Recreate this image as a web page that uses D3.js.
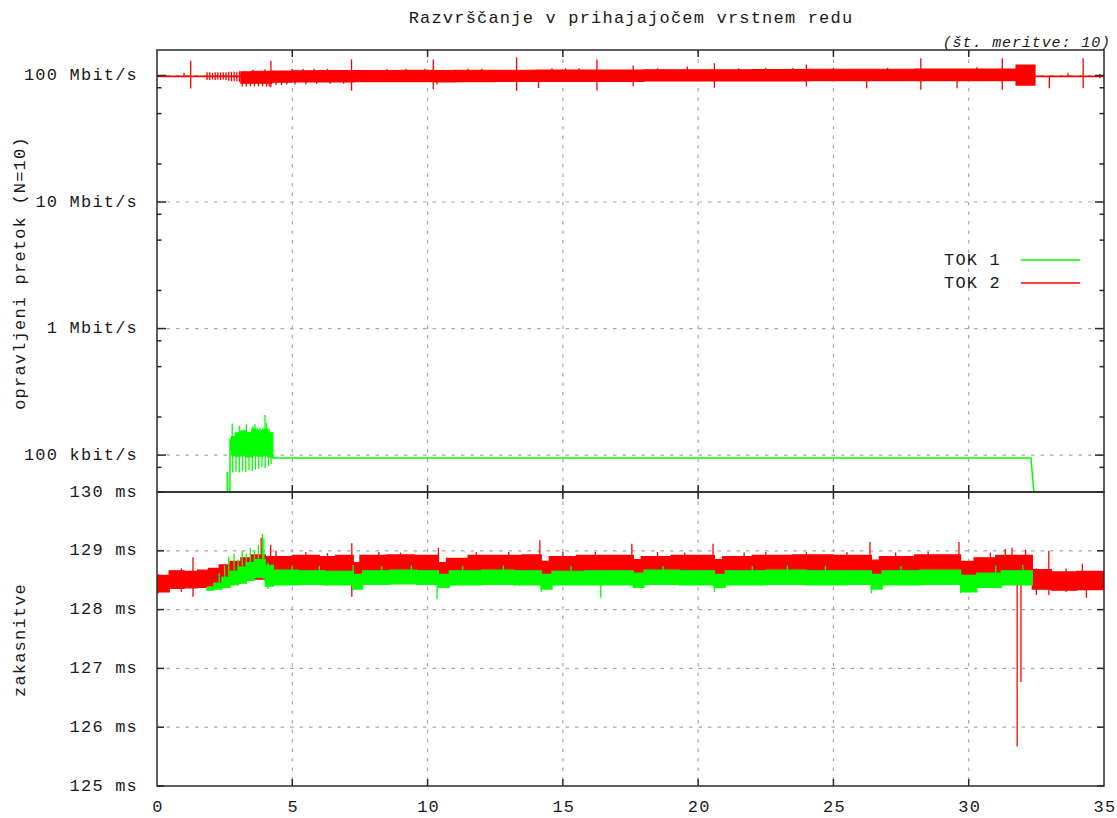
<!DOCTYPE html>
<html><head><meta charset="utf-8">
<script src="https://cdn.jsdelivr.net/npm/d3@7"></script>
<style>
body{margin:0;background:#fff}
svg text{font-family:"Liberation Mono","DejaVu Sans Mono",monospace;fill:#1a1a1a}
</style></head><body>
<svg id="c" width="1117" height="818"></svg>
<script>
// ---------- tick labels ----------
const xTickValues = [0,5,10,15,20,25,30,35];
const rateTickValues = [100,10,1,0.1];               // Mbit/s
const rateTickLabels = ["100 Mbit/s","10 Mbit/s","1 Mbit/s","100 kbit/s"];
const rateMinorValues = [80,50,20,8,5,2,0.8,0.5,0.2,0.08];
const delayTickValues = [130,129,128,127,126,125];   // ms
const delayTickLabels = ["130 ms","129 ms","128 ms","127 ms","126 ms","125 ms"];
const seriesNames = ["TOK 1","TOK 2"];

// ---------- TOK 2 throughput (Mbit/s): band [t, lo, hi] (step) ----------
const tok2RateBand = [
 [0,97.8,98.8],[3.1,87,107],[3.5,87,108],[4.25,88.5,108.5],[5.0,89,109],[6.0,89,109.5],
 [7.3,89.5,109.5],[9.0,89.5,110],[10.3,89,109.5],[11.0,89.5,110],[12.5,90,110],[14.0,90,110.5],
 [16.0,90,110.5],[18.0,90.5,111],[20.0,90.5,111],[22.0,90.5,111.5],[24.0,91,112],[26.0,91,112],
 [28.0,91,112.5],[30.0,91,112.5],[31.75,84,121],[32.45,97.8,98.8],[35,97.8,98.8]
];
// TOK 2 throughput spikes [t, lo, hi]
const tok2RateSpikes = [
 [1.0,98,105],[1.245,79,131],
 [1.85,92,106],[1.95,92,106],[2.05,93,105],[2.15,92,106],[2.25,93,106],[2.35,92,106],[2.45,93,106],
 [2.55,92,106],[2.65,91,107],[2.75,90,107],[2.85,90,107],[2.95,90,107],[3.05,89,108],
 [3.15,82,100],[3.3,82,100],[3.45,82,100],[3.6,82,100],[3.75,82,100],[3.9,82,100],[4.05,82,100],[4.15,82,100],
 [4.4,84,100],[4.6,84,100],[4.8,85,100],[5.1,85,100],[5.5,85,100],[5.9,86,100],[6.4,86,100],[6.9,86,100],
 [3.55,100,111],[3.99,100,112],[4.21,80.6,131],
 [5.0,100,113],[5.4,100,113],[5.8,100,113],[6.3,100,113],[7.19,76,134],
 [8.5,100,113],[9.2,100,113],[9.9,100,113],[10.21,78,134],[10.35,85,100],
 [11.5,100,113],[12.0,100,113],[13.29,75.5,139],[14.1,79.5,100],
 [14.6,100,114],[15.1,100,114],[15.6,100,114],[16.26,76,134],[17.6,82,120],
 [18.5,100,114],[19.6,100,118],[20.6,80,125],[21.5,100,114],[22.5,100,115],[23.5,100,115],
 [24.0,82,122],[25.0,100,115],[26.23,79.3,100],[27.0,100,115],[28.23,77,137],[29.57,79.2,100],
 [30.3,100,116],[31.24,77,137],[32.98,79.2,98],[33.67,98,105],[34.23,79.2,137],[34.85,95,103]
];

// ---------- TOK 1 throughput (Mbit/s) ----------
const tok1RateLine = [
 [0,0.03],[2.6,0.03],[2.6,0.074],[2.63,0.03],[2.69,0.03],[2.7,0.136],[2.73,0.11],
 [4.28,0.1],[4.3,0.0947],[32.3,0.0947],[32.5,0.03],[35,0.03]
];
const tok1RateBurstBand = [
 [2.75,0.1,0.14],[2.9,0.098,0.15],[3.1,0.1,0.155],[3.3,0.097,0.15],[3.5,0.1,0.16],
 [3.7,0.098,0.155],[3.9,0.1,0.16],[4.1,0.097,0.15],[4.28,0.0947,0.0947]
];
const tok1RateBurstSpikes = [
 [2.8,0.073,0.11],[2.92,0.074,0.11],[3.04,0.073,0.11],[3.16,0.075,0.11],[3.28,0.074,0.11],
 [3.4,0.076,0.11],[3.52,0.075,0.11],[3.64,0.077,0.11],[3.76,0.078,0.11],[3.88,0.08,0.11],
 [4.0,0.079,0.11],[4.12,0.082,0.11],[4.22,0.085,0.1],
 [2.78,0.1,0.178],[3.05,0.11,0.17],[3.3,0.11,0.175],[3.55,0.11,0.17],[3.62,0.11,0.175],
 [3.8,0.11,0.165],[3.99,0.11,0.207],[4.05,0.11,0.18],[4.15,0.1,0.16]
];

// ---------- TOK 2 delay (ms) ----------
const tok2DelayBand = [
 [0,128.30,128.58],[0.45,128.36,128.66],[1.0,128.37,128.65],[1.5,128.38,128.67],[1.9,128.40,128.70],
 [2.3,128.42,128.76],[2.7,128.45,128.82],[3.1,128.5,128.88],[3.5,128.52,128.93],[4.0,128.5,128.9],
 [4.3,128.58,128.9],[5.0,128.6,128.92],[6.0,128.6,128.9],[6.6,128.6,128.92],[7.25,128.55,128.8],
 [7.5,128.62,128.92],[8.5,128.62,128.93],[9.5,128.62,128.92],[10.4,128.55,128.8],[10.7,128.6,128.87],
 [11.5,128.62,128.92],[12.5,128.62,128.92],[13.5,128.62,128.93],[14.2,128.5,128.82],[14.5,128.58,128.9],
 [15.5,128.62,128.92],[16.5,128.62,128.92],[17.6,128.55,128.85],[17.9,128.6,128.9],[19.0,128.62,128.92],
 [20.6,128.55,128.85],[20.9,128.6,128.9],[22.0,128.62,128.92],[23.5,128.62,128.93],[25.0,128.62,128.92],
 [26.4,128.55,128.84],[26.7,128.6,128.9],[28.0,128.62,128.93],[29.7,128.55,128.82],[30.2,128.58,128.88],
 [31.0,128.6,128.92],[32.35,128.35,128.68],[33.05,128.33,128.64],[34.0,128.34,128.65],[35,128.34,128.65]
];
const tok2DelaySpikes = [
 [0.05,128.28,128.6],[0.9,128.3,128.7],[1.33,128.22,128.89],[3.85,128.6,129.22],[4.2,128.6,129.1],[4.4,128.6,129.0],
 [5.5,128.7,128.98],[6.3,128.7,128.96],[7.2,128.22,129.13],[8.2,128.7,128.98],[9.0,128.7,128.97],[10.4,128.6,129.05],
 [11.8,128.7,128.98],[13.0,128.7,128.98],[14.15,128.5,129.18],[15.0,128.7,128.98],[16.2,128.7,128.98],
 [17.55,128.5,129.12],[18.5,128.7,128.98],[19.5,128.7,128.97],[20.55,128.5,129.12],[21.7,128.7,128.97],[22.5,128.7,128.98],
 [24.0,128.7,128.98],[25.5,128.7,128.98],[26.35,128.5,129.15],[27.3,128.7,128.97],[28.5,128.7,128.98],
 [29.64,128.45,129.15],[30.8,128.7,128.97],[31.35,128.7,129.03],[31.6,128.7,129.05],
 [31.79,125.67,128.9],[31.93,126.77,128.9],[32.1,128.7,129.02],[32.5,128.25,128.7],
 [32.96,128.25,129.0],[33.6,128.3,128.7],[34.2,128.4,128.78],[34.35,128.2,128.5]
];

// ---------- TOK 1 delay (ms) ----------
const tok1DelayBand = [
 [1.85,128.33,128.38],[2.1,128.35,128.45],[2.4,128.38,128.55],[2.7,128.42,128.65],[3.0,128.45,128.72],
 [3.3,128.5,128.8],[3.6,128.55,128.85],[4.0,128.4,128.75],[4.3,128.42,128.67],[5.2,128.43,128.66],
 [6.2,128.42,128.65],[7.25,128.35,128.6],[7.6,128.43,128.66],[8.6,128.44,128.67],[9.6,128.43,128.66],
 [10.4,128.38,128.6],[10.8,128.42,128.66],[12.0,128.43,128.67],[13.2,128.42,128.66],[14.2,128.35,128.6],
 [14.6,128.42,128.65],[15.8,128.42,128.66],[17.6,128.38,128.62],[18.0,128.43,128.67],[19.3,128.42,128.66],
 [20.6,128.38,128.6],[21.0,128.42,128.66],[22.5,128.43,128.67],[24.0,128.42,128.66],[25.5,128.43,128.66],
 [26.4,128.35,128.6],[26.8,128.42,128.66],[28.2,128.43,128.67],[29.7,128.3,128.58],[30.3,128.38,128.62],
 [31.2,128.42,128.66],[32.35,128.42,128.66]
];
const tok1DelaySpikes = [
 [2.3,128.4,128.62],[2.5,128.42,128.75],[2.65,128.45,128.9],[2.85,128.5,128.95],[3.0,128.5,128.85],
 [3.15,128.5,129.0],[3.3,128.55,128.95],[3.45,128.55,129.05],[3.6,128.6,129.0],[3.75,128.55,129.1],
 [3.9,128.55,129.29],[3.95,128.5,129.2],[4.1,128.35,128.8],[5.0,128.5,128.75],[6.0,128.5,128.74],
 [7.25,128.33,128.76],[8.3,128.5,128.74],[9.4,128.5,128.75],[10.35,128.18,128.6],[11.3,128.5,128.74],
 [12.8,128.5,128.75],[14.2,128.3,128.6],[15.3,128.5,128.74],[16.4,128.2,128.55],[18.7,128.5,128.74],
 [20.6,128.3,128.6],[22.0,128.5,128.74],[23.3,128.5,128.75],[24.7,128.5,128.74],[26.4,128.28,128.6],
 [27.5,128.5,128.74],[29.7,128.28,128.6],[31.0,128.5,128.75],[32.0,128.5,128.76]
];

// ---------- layout ----------
const L = 157, R = 1104, T1 = 50, B1 = 492, T2 = 492, B2 = 786;
const svg = d3.select("#c");
const GREEN = "#00ff00", RED = "#ff0000", FRAME = "#2a2a2a", GRID = "#a8a8a8";

const x = d3.scaleLinear().domain([0,35]).range([L,R]);
const yRate = d3.scaleLog().domain([0.0511,159]).range([B1,T1]);
const yDelay = d3.scaleLinear().domain([125,130]).range([B2,T2]);

const defs = svg.append("defs");
defs.append("clipPath").attr("id","clip1").append("rect").attr("x",L).attr("y",T1).attr("width",R-L).attr("height",B1-T1);
defs.append("clipPath").attr("id","clip2").append("rect").attr("x",L).attr("y",T2).attr("width",R-L).attr("height",B2-T2);

// grids
function grid(y, vals, top, bottom){
  const g = svg.append("g").attr("stroke",GRID).attr("stroke-width",1.2).attr("stroke-dasharray","3.5,6").attr("fill","none");
  xTickValues.filter(v=>v>0&&v<35).forEach(v=>{
    g.append("line").attr("x1",x(v)).attr("x2",x(v)).attr("y1",top).attr("y2",bottom);
  });
  vals.forEach(v=>{
    g.append("line").attr("x1",L).attr("x2",R).attr("y1",y(v)).attr("y2",y(v));
  });
}
grid(yRate, rateTickValues, T1, B1);
grid(yDelay, delayTickValues.filter(v=>v>125&&v<130), T2, B2);

// drawing helpers
function band(data, y, color, clip, sw){
  const a = d3.area().curve(d3.curveStepAfter).x(d=>x(d[0])).y0(d=>y(d[1])).y1(d=>y(d[2]));
  svg.append("path").attr("clip-path",`url(#${clip})`).datum(data).attr("d",a)
    .attr("fill",color).attr("stroke",color).attr("stroke-width",sw==null?1.3:sw);
}
function spikes(data, y, color, clip){
  svg.append("g").attr("clip-path",`url(#${clip})`).selectAll("line").data(data).join("line")
    .attr("x1",d=>x(d[0])).attr("x2",d=>x(d[0])).attr("y1",d=>y(d[1])).attr("y2",d=>y(d[2]))
    .attr("stroke",color).attr("stroke-width",1.3);
}
function line(data, y, color, clip){
  const l = d3.line().x(d=>x(d[0])).y(d=>y(d[1]));
  svg.append("path").attr("clip-path",`url(#${clip})`).datum(data).attr("d",l)
    .attr("fill","none").attr("stroke",color).attr("stroke-width",1.5);
}

// top panel
line(tok1RateLine, yRate, GREEN, "clip1");
band(tok1RateBurstBand, yRate, GREEN, "clip1");
spikes(tok1RateBurstSpikes, yRate, GREEN, "clip1");
band(tok2RateBand, yRate, RED, "clip1", 1.2);
spikes(tok2RateSpikes, yRate, RED, "clip1");

// bottom panel
band(tok2DelayBand, yDelay, RED, "clip2");
spikes(tok2DelaySpikes, yDelay, RED, "clip2");
band(tok1DelayBand, yDelay, GREEN, "clip2");
spikes(tok1DelaySpikes, yDelay, GREEN, "clip2");

// frames
const fr = svg.append("g").attr("fill","none").attr("stroke",FRAME).attr("stroke-width",1.5);
fr.append("rect").attr("x",L).attr("y",T1).attr("width",R-L).attr("height",B1-T1);
fr.append("rect").attr("x",L).attr("y",T2).attr("width",R-L).attr("height",B2-T2);

// ticks
const tk = svg.append("g").attr("stroke",FRAME).attr("stroke-width",1.5);
xTickValues.filter(v=>v>0&&v<35).forEach(v=>{
  tk.append("line").attr("x1",x(v)).attr("x2",x(v)).attr("y1",T1).attr("y2",T1+7);
  tk.append("line").attr("x1",x(v)).attr("x2",x(v)).attr("y1",B1-7).attr("y2",B1+7);
  tk.append("line").attr("x1",x(v)).attr("x2",x(v)).attr("y1",B2-7).attr("y2",B2);
});
rateTickValues.forEach(v=>{
  tk.append("line").attr("x1",L).attr("x2",L+9).attr("y1",yRate(v)).attr("y2",yRate(v));
  tk.append("line").attr("x1",R-9).attr("x2",R).attr("y1",yRate(v)).attr("y2",yRate(v));
});
rateMinorValues.forEach(v=>{
  tk.append("line").attr("x1",L).attr("x2",L+4.5).attr("y1",yRate(v)).attr("y2",yRate(v));
  tk.append("line").attr("x1",R-4.5).attr("x2",R).attr("y1",yRate(v)).attr("y2",yRate(v));
});
delayTickValues.forEach(v=>{
  tk.append("line").attr("x1",L).attr("x2",L+7).attr("y1",yDelay(v)).attr("y2",yDelay(v));
  tk.append("line").attr("x1",R-7).attr("x2",R).attr("y1",yDelay(v)).attr("y2",yDelay(v));
});

// labels
const FS = 17, LS = 1.2;
function txt(s, px, py, anchor, extra){
  const t = svg.append("text").attr("x",px).attr("y",py).attr("text-anchor",anchor||"start")
    .attr("dominant-baseline","central").attr("font-size",FS).attr("letter-spacing",LS).text(s);
  if(extra) extra(t);
  return t;
}
rateTickValues.forEach((v,i)=>txt(rateTickLabels[i], 138, yRate(v), "end"));
delayTickValues.forEach((v,i)=>txt(delayTickLabels[i], 138, yDelay(v), "end"));
xTickValues.forEach(v=>txt(String(v), x(v)+1, 807, "middle"));

txt("Razvrščanje v prihajajočem vrstnem redu", 631, 18, "middle");
txt("(št. meritve: 10)", 1111, 43, "end", t=>t.attr("font-style","italic").attr("font-size",15).attr("letter-spacing",0.9));
txt("opravljeni pretok (N=10)", 0, 0, "middle", t=>t.attr("transform","translate(20,273) rotate(-90)"));
txt("zakasnitve", 0, 0, "middle", t=>t.attr("transform","translate(20,640) rotate(-90)"));

// legend
const legColors = [GREEN, RED];
seriesNames.forEach((n,i)=>{
  const ly = 260 + i*23;
  txt(n, 1001, ly, "end");
  svg.append("line").attr("x1",1021).attr("x2",1080).attr("y1",ly).attr("y2",ly)
    .attr("stroke",legColors[i]).attr("stroke-width",1.5);
});
</script>
</body></html>
